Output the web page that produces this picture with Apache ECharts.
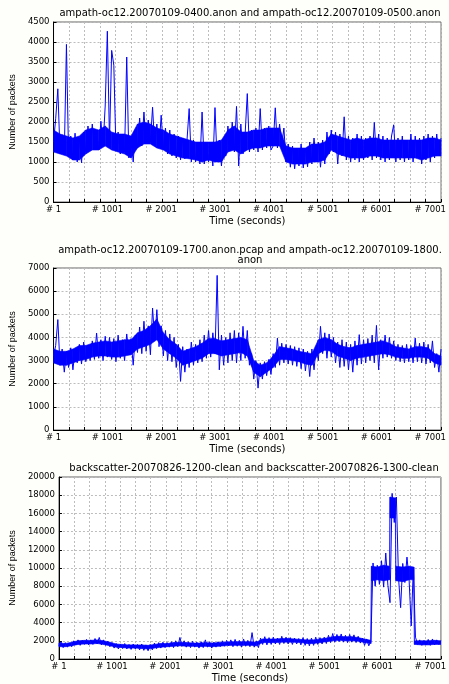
<!DOCTYPE html>
<html>
<head>
<meta charset="utf-8">
<script src="https://cdn.jsdelivr.net/npm/echarts@6/dist/echarts.min.js"></script>
<style>
  html, body { margin: 0; padding: 0; background: #fefefa; }
  #chart { width: 449px; height: 684px; }
</style>
</head>
<body>
<div id="chart"></div>
<script>
// noisy trace: one value every STEP seconds
const STEP = 40;
// dense core of the band: bottom / top every BAND_STEP seconds
const BAND_STEP = 120;
const X_MAX = 7200;
const titles = [
  "ampath-oc12.20070109-0400.anon and ampath-oc12.20070109-0500.anon",
  "ampath-oc12.20070109-1700.anon.pcap and ampath-oc12.20070109-1800.\nanon",
  "backscatter-20070826-1200-clean and backscatter-20070826-1300-clean"
];
const yMax = [4500, 7000, 20000];
const yStep = [500, 1000, 2000];

const packets0400 = [
  1500, 2080, 2830, 1250, 1680, 1200, 3940, 1150, 1650, 1050,
  1720, 1000, 1600, 980, 1750, 1250, 1900, 1350, 1950, 1300,
  1800, 1300, 2020, 1400, 2400, 4270, 1500, 3790, 3420, 1300,
  1750, 1200, 1700, 1250, 3625, 1100, 1650, 1000, 1800, 1350,
  2100, 1400, 2250, 1450, 2050, 1500, 2370, 1400, 1950, 1350,
  2170, 1300, 1850, 1200, 1800, 1150, 1700, 1100, 1650, 1050,
  1600, 1080, 1550, 2335, 1000, 1550, 1000, 1500, 950, 2250,
  950, 1450, 1000, 1500, 900, 2360, 1000, 1550, 900, 1600,
  1150, 1900, 1300, 2000, 1250, 2390, 900, 1950, 1200, 1700,
  2710, 1250, 1800, 1300, 1850, 1250, 2335, 1300, 1850, 1350,
  1900, 1300, 1400, 2355, 1350, 1950, 1400, 1850, 1000, 1450,
  870, 1400, 830, 1350, 900, 1450, 850, 1350, 880, 1500,
  950, 1600, 1000, 1500, 870, 1550, 950, 1750, 1200, 1800,
  1250, 1750, 950, 1700, 1150, 2130, 1050, 1650, 1000, 1600,
  1050, 1700, 1000, 1650, 1050, 1600, 1100, 1650, 1050, 1990,
  1100, 1700, 1050, 1650, 1000, 1600, 1050, 1650, 1930, 1000,
  1600, 1050, 1650, 1000, 1550, 1050, 1700, 1000, 1650, 1100,
  1600, 950, 1650, 1050, 1700, 1000, 1650, 1100, 1700, 1150,
  1600
];
const band0400Low = [
  1250, 1200, 1150, 1050, 1050, 1200, 1300, 1300, 1400, 1300,
  1250, 1200, 1100, 1350, 1450, 1450, 1350, 1300, 1200, 1150,
  1100, 1080, 1050, 1000, 1050, 1000, 1000, 1250, 1300, 1200,
  1300, 1350, 1350, 1400, 1400, 1400, 1000, 950, 950, 950,
  1000, 1000, 1050, 1300, 1200, 1150, 1100, 1100, 1100, 1150,
  1150, 1100, 1100, 1100, 1100, 1100, 1100, 1050, 1100, 1150,
  1150
];
const band0400High = [
  1800, 1700, 1650, 1600, 1650, 1800, 1850, 1800, 1900, 1750,
  1700, 1700, 1650, 1950, 2000, 1950, 1850, 1800, 1700, 1650,
  1600, 1550, 1500, 1500, 1500, 1500, 1550, 1800, 1900, 1750,
  1750, 1800, 1800, 1850, 1850, 1850, 1400, 1350, 1350, 1350,
  1450, 1450, 1500, 1700, 1650, 1600, 1550, 1600, 1550, 1600,
  1600, 1550, 1550, 1550, 1550, 1550, 1550, 1550, 1600, 1600,
  1550
];

const packets1700 = [
  3200, 3650, 4770, 2800, 3500, 2500, 3400, 2700, 3550, 2600,
  3450, 2900, 3700, 2850, 3800, 2950, 3650, 3000, 3850, 3050,
  4190, 3100, 3900, 3000, 4050, 3150, 4000, 3050, 3950, 2950,
  4100, 3100, 3900, 3000, 4150, 3300, 3950, 2800, 4100, 3350,
  4450, 3300, 4700, 3400, 4500, 3250, 5270, 3900, 5200, 3600,
  4500, 3200, 4300, 3000, 4150, 2950, 4000, 2700, 3700, 2100,
  3600, 2500, 3500, 2700, 3800, 2800, 3700, 2900, 3900, 2950,
  4100, 3100, 4300, 3150, 4200, 3300, 6680, 2600, 4100, 2800,
  4000, 2900, 4200, 3000, 4300, 2900, 4200, 3000, 4480, 3100,
  4300, 2800, 3300, 2200, 3000, 1810, 2900, 2200, 2950, 2350,
  3050, 2400, 3300, 2700, 3970, 2800, 3750, 2900, 3700, 2850,
  3650, 2800, 3600, 2750, 3550, 2650, 3500, 2550, 3400, 2310,
  3500, 2600, 3600, 3000, 4480, 3300, 4200, 3100, 4150, 3150,
  4000, 2900, 3800, 2700, 3900, 2750, 3800, 2600, 3700, 2500,
  3850, 2800, 4120, 2850, 3900, 2900, 3950, 3000, 4100, 2900,
  4520, 2600, 3900, 3100, 4100, 3150, 4000, 3100, 3850, 3000,
  3700, 2950, 3650, 2900, 3700, 2950, 3650, 2900, 3970, 2950,
  3750, 2900, 3800, 2850, 3700, 2900, 3850, 2700, 3300, 2500,
  3500
];
const band1700Low = [
  2900, 2800, 2800, 2900, 3000, 3050, 3150, 3200, 3200, 3150,
  3150, 3200, 3250, 3500, 3600, 3700, 3900, 3500, 3300, 3100,
  2800, 2900, 3000, 3100, 3300, 3300, 3200, 3250, 3300, 3350,
  3200, 2500, 2300, 2500, 2700, 3050, 3050, 3000, 2950, 2850,
  2800, 3300, 3450, 3400, 3200, 3100, 3000, 3100, 3150, 3200,
  3250, 3300, 3250, 3150, 3100, 3100, 3150, 3150, 3100, 2900,
  2800
];
const band1700High = [
  3500, 3400, 3400, 3500, 3650, 3650, 3750, 3800, 3850, 3800,
  3850, 3900, 3900, 4200, 4300, 4500, 4800, 4200, 3900, 3700,
  3400, 3500, 3600, 3750, 3950, 3950, 3850, 3900, 3950, 4000,
  3900, 3000, 2800, 2900, 3200, 3600, 3550, 3500, 3400, 3350,
  3300, 3900, 4000, 3900, 3700, 3600, 3550, 3650, 3700, 3750,
  3800, 3850, 3750, 3600, 3550, 3500, 3600, 3600, 3550, 3300,
  3200
];

const packetsBackscatter = [
  1500, 1900, 1250, 1800, 1300, 1750, 1350, 2000, 1550, 2100,
  1500, 2050, 1600, 2150, 1550, 2100, 1600, 2250, 1650, 2370,
  1550, 2100, 1500, 1950, 1350, 1800, 1200, 1700, 1100, 1650,
  1150, 1700, 1100, 1600, 1050, 1650, 1100, 1600, 1000, 1650,
  950, 1550, 900, 1600, 1000, 1750, 1150, 1800, 1200, 1850,
  1250, 1800, 1300, 1900, 1250, 2000, 1350, 2370, 1400, 2000,
  1300, 1900, 1250, 1950, 1300, 1850, 1200, 1900, 1250, 2100,
  1300, 1900, 1200, 1850, 1300, 1900, 1350, 2000, 1400, 2050,
  1450, 2100, 1350, 2150, 1400, 2050, 1300, 2200, 1400, 2050,
  1350, 2900, 1300, 2000, 1250, 2300, 1600, 2450, 1550, 2350,
  1600, 2400, 1650, 2300, 1600, 2500, 1700, 2400, 1650, 2350,
  1600, 2300, 1650, 2250, 1550, 2350, 1500, 2250, 1450, 2300,
  1500, 2400, 1600, 2350, 1650, 2400, 1700, 2600, 1800, 2800,
  1850, 2700, 1900, 2750, 1850, 2600, 1800, 2700, 1850, 2650,
  1800, 2500, 1750, 2300, 1500, 2200, 1450, 2000, 10550, 8000,
  10300, 8200, 10800, 7900, 11650, 8100, 6190, 18200, 15000, 17800,
  9000, 5640, 10500, 8400, 11200, 8700, 3640, 10000, 2400, 1600,
  2100, 1500, 2050, 1550, 2150, 1500, 2200, 1550, 2100, 1600,
  2000
];
// [seconds, bottom, top] of the band, with the jumps kept sharp
const bandBackscatter = [
  [0, 1350, 1750], [120, 1350, 1700], [240, 1450, 1850], [360, 1600, 2000],
  [480, 1650, 2050], [600, 1650, 2050], [720, 1700, 2100], [840, 1600, 2000],
  [960, 1450, 1850], [1080, 1300, 1650], [1200, 1250, 1600], [1320, 1200, 1550],
  [1440, 1200, 1550], [1560, 1150, 1550], [1680, 1100, 1500], [1800, 1200, 1600],
  [1920, 1300, 1700], [2040, 1350, 1700], [2160, 1400, 1800], [2280, 1450, 1850],
  [2400, 1400, 1800], [2520, 1400, 1750], [2640, 1350, 1750], [2760, 1400, 1800],
  [2880, 1350, 1750], [3000, 1400, 1800], [3120, 1450, 1850], [3240, 1500, 1900],
  [3360, 1500, 1900], [3480, 1500, 1900], [3600, 1500, 1900], [3720, 1450, 1850],
  [3840, 1800, 2200], [3960, 1800, 2200], [4080, 1800, 2200], [4200, 1850, 2250],
  [4320, 1850, 2250], [4440, 1850, 2200], [4560, 1800, 2150], [4680, 1700, 2100],
  [4800, 1700, 2100], [4920, 1800, 2200], [5040, 1900, 2300], [5160, 2000, 2450],
  [5280, 2050, 2500], [5400, 2000, 2450], [5520, 2000, 2450], [5640, 1950, 2350],
  [5760, 1800, 2200], [5880, 1700, 2050], [5890, 8600, 10200], [6000, 8700, 10100],
  [6120, 8600, 10300], [6230, 8700, 10200], [6240, 15500, 17800], [6340, 15500, 17700],
  [6350, 8600, 10200], [6480, 8500, 10100], [6600, 8700, 10200], [6690, 8700, 10100],
  [6700, 1600, 2000], [6840, 1550, 2000], [6960, 1550, 2000], [7080, 1600, 2050],
  [7200, 1600, 2000]
];

const FONT = "DejaVu Sans";
const NARROW = "'Liberation Sans Narrow', 'Liberation Sans', Arial, sans-serif";
const textBase = { color: "#000", fontFamily: FONT };

const boxes = [
  { left: 53, top: 22, width: 394, height: 180, titleTop: 8, nameGap: 33 },
  { left: 53, top: 268, width: 394, height: 162, titleTop: 245, nameGap: 33 },
  { left: 57, top: 477, width: 394, height: 183, titleTop: 463, nameGap: 39 }
];
const traces = [packets0400, packets1700, packetsBackscatter];
const bands = [
  band0400Low.map((lo, i) => [i * BAND_STEP, lo, band0400High[i]]),
  band1700Low.map((lo, i) => [i * BAND_STEP, lo, band1700High[i]]),
  bandBackscatter
];

function bandRenderer(rows) {
  return function (params, api) {
    const i = params.dataIndex;
    if (i >= rows.length - 1) return null;
    const a = rows[i], b = rows[i + 1];
    const pts = [
      api.coord([a[0], a[1]]), api.coord([b[0], b[1]]),
      api.coord([b[0], b[2]]), api.coord([a[0], a[2]])
    ];
    return {
      type: "polygon",
      shape: { points: pts },
      style: { fill: "#0000ff", stroke: "#0000ff", lineWidth: 0.6 }
    };
  };
}

const option = {
  backgroundColor: "#fefefa",
  animation: false,
  title: titles.map((txt, k) => ({
    text: txt,
    left: boxes[k].left + 197,
    top: boxes[k].titleTop,
    padding: 0,
    textAlign: "center",
    textStyle: Object.assign({ fontSize: 10, fontWeight: "normal", lineHeight: 10 }, textBase)
  })),
  grid: boxes.map(b => ({
    left: b.left, top: b.top, width: b.width, height: b.height,
    show: true, backgroundColor: "#fff", borderColor: "#666", borderWidth: 1
  })),
  xAxis: [],
  yAxis: [],
  series: []
};

boxes.forEach((b, k) => {
  // labelled axis: "# 1", "# 1001", ...
  option.xAxis.push({
    type: "value", gridIndex: k, min: 0, max: X_MAX, interval: 1000,
    position: "bottom",
    name: "Time (seconds)", nameLocation: "middle", nameGap: 14,
    nameTextStyle: Object.assign({ fontSize: 10 }, textBase),
    axisLine: { show: true, lineStyle: { color: "#000" } },
    axisTick: { show: false },
    splitLine: { show: false },
    axisLabel: Object.assign({
      fontSize: 8.5, margin: 3, showMaxLabel: true,
      formatter: v => (v % 1000 === 0 && v < X_MAX) ? "# " + (v + 1) : ""
    }, textBase)
  });
  // dotted vertical grid
  option.xAxis.push({
    type: "value", gridIndex: k, min: 0, max: X_MAX, interval: 288,
    position: "bottom",
    axisLine: { show: false },
    axisTick: { show: true, inside: true, length: 3, lineStyle: { color: "#000" } },
    axisLabel: { show: false },
    splitLine: { show: true, lineStyle: { color: "#bdbdbd", type: [2, 2], width: 1 } }
  });
  option.yAxis.push({
    type: "value", gridIndex: k, min: 0, max: yMax[k], interval: yStep[k],
    name: "Number of packets", nameLocation: "middle", nameRotate: 90, nameGap: b.nameGap,
    nameTextStyle: { color: "#000", fontSize: 9, fontFamily: NARROW },
    axisLine: { show: true, lineStyle: { color: "#000" } },
    axisTick: { show: true, inside: true, length: 3, lineStyle: { color: "#000" } },
    axisLabel: Object.assign({ fontSize: 8.5, margin: 4, formatter: v => String(v) }, textBase),
    splitLine: { show: true, lineStyle: { color: "#bdbdbd", type: [2, 2], width: 1 } }
  });
  option.series.push({
    type: "custom", xAxisIndex: k * 2, yAxisIndex: k,
    data: bands[k],
    renderItem: bandRenderer(bands[k]),
    clip: true, silent: true
  });
  option.series.push({
    type: "line", xAxisIndex: k * 2, yAxisIndex: k,
    data: traces[k].map((v, i) => [i * STEP, v]),
    showSymbol: false, symbol: "none",
    lineStyle: { color: "#0000ff", width: 1 },
    clip: true, silent: true
  });
});

const chart = echarts.init(document.getElementById("chart"), null, { renderer: "canvas" });
chart.setOption(option);
</script>
</body>
</html>
